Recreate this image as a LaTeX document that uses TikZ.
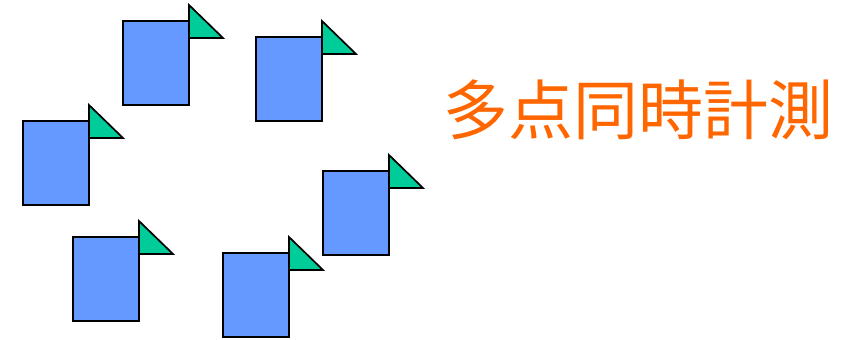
\documentclass[tikz,border=0pt]{standalone}
\usepackage{fontspec}
\newfontfamily\jpfont{Noto Sans CJK JP}
\definecolor{sheetblue}{HTML}{6699FF}
\definecolor{flaggreen}{HTML}{00CC99}
\definecolor{titleorange}{HTML}{FF6600}
\begin{document}
\begin{tikzpicture}[x=1pt,y=-1pt,
  sheet/.style={draw=black,fill=sheetblue,line width=1.7pt,anchor=north west,
    minimum width=66pt,minimum height=84pt,inner sep=0pt,outer sep=0pt},
  flag/.style={draw=black,fill=flaggreen,line width=1.7pt,line join=miter},
  title/.style={text=titleorange,font=\jpfont\fontsize{65}{72}\selectfont,inner sep=0pt}]
  \useasboundingbox (0,0) rectangle (844,340);
  % sheets with their flags
  \foreach \name/\x/\y in {s1/123/21, s2/256/37, s3/23/121, s4/323/171, s5/73/237, s6/223/253}{
    \node[sheet] (\name) at (\x,\y) {};
    \draw[flag] ([yshift=16pt]\name.north east) -- ([yshift=-17pt]\name.north east)
      -- ([xshift=34pt,yshift=-17pt]\name.north east) -- cycle;
  }
  \node[title] (t) at (638,110) {多点同時計測};
\end{tikzpicture}
\end{document}
